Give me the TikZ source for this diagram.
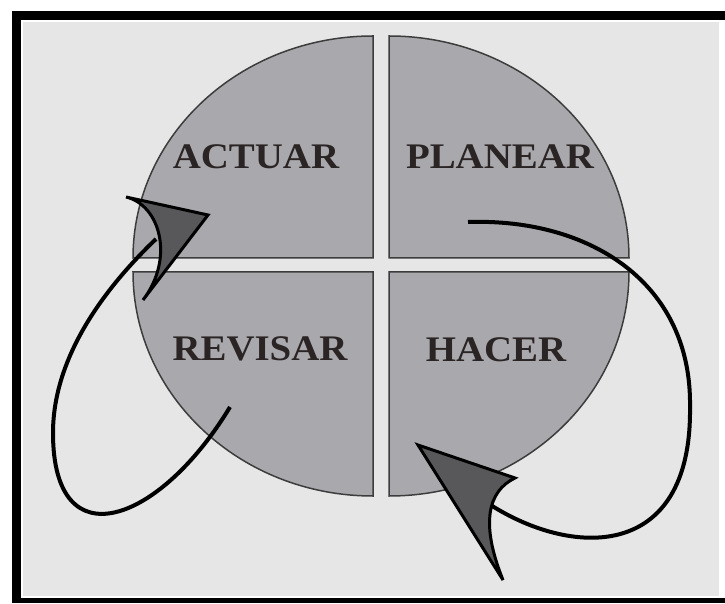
\documentclass[tikz,border=0pt]{standalone}
\usepackage{fontspec}
\setmainfont{Liberation Serif}
\newfontfamily\pdcafont[FakeStretch=1.08]{Liberation Serif}
\definecolor{panelbg}{HTML}{E6E6E6}
\definecolor{quadfill}{HTML}{A9A9AD}
\definecolor{quadline}{HTML}{3C3C3C}
\definecolor{headfill}{HTML}{58585A}
\definecolor{lblcol}{HTML}{2B2424}
\tikzset{
  quad/.style={fill=quadfill, draw=quadline, line width=1.5pt},
  lbl/.style={inner sep=0pt, text=lblcol, font=\pdcafont\bfseries\fontsize{36}{40}\selectfont},
  shaft/.style={draw=black, line width=4pt},
  head/.style={fill=headfill, draw=black, line width=3pt, line join=miter}
}

\begin{document}
\begin{tikzpicture}[x=1pt, y=1pt]
			%%%%% START %%%%%
			\useasboundingbox (0, 0) rectangle (725, 603);
			
			% frame
			\fill[white] (0, 0) rectangle (725, 603);
			\fill[black] (12, 0) rectangle (725, 592);
			\fill[white] (21, 5) rectangle (725, 583);
			\fill[panelbg] (23, 7) rectangle (719, 581);
			
			% four quarters
			\draw[quad] (389, 345) -- (629, 345) arc (0:90:240 and 222) -- cycle;
			\draw[quad] (373, 345) -- (373, 567) arc (90:180:240 and 222) -- cycle;
			\draw[quad] (373, 331) -- (133, 331) arc (180:270:240 and 224) -- cycle;
			\draw[quad] (389, 331) -- (389, 107) arc (270:360:240 and 224) -- cycle;
			
			\node[lbl] (actuar) at (256, 446) {ACTUAR};
			\node[lbl] (planear) at (500, 446) {PLANEAR};
			\node[lbl] (revisar) at (260, 254) {REVISAR};
			\node[lbl] (hacer) at (496, 253) {HACER};
			
			% arrow PLANEAR -> HACER
			\coordinate (planStart) at (468, 381);
			\coordinate (hacerNotch) at (486, 101);
			\coordinate (hacerTip) at (418, 158);
			\draw[shaft] (planStart) .. controls (590, 385) and (692, 320) .. (690, 196)
			  .. controls (692, 40) and (570, 45) .. (hacerNotch);
			\draw[head] (hacerTip) -- (515, 125) .. controls (488, 112) and (480, 80) .. (503, 23) -- cycle;
			
			% arrow REVISAR -> ACTUAR
			\coordinate (revStart) at (230, 196);
			\coordinate (actNotch) at (156, 364);
			\coordinate (actTip) at (208, 388);
			\draw[shaft] (revStart) .. controls (160, 80) and (53, 40) .. (53, 170)
			  .. controls (53, 250) and (110, 320) .. (actNotch);
			\draw[head] (actTip) -- (126, 406) .. controls (160, 398) and (175, 345) .. (143, 303) -- cycle;
			
			%%%%% END %%%%%
		\end{tikzpicture}
\end{document}
